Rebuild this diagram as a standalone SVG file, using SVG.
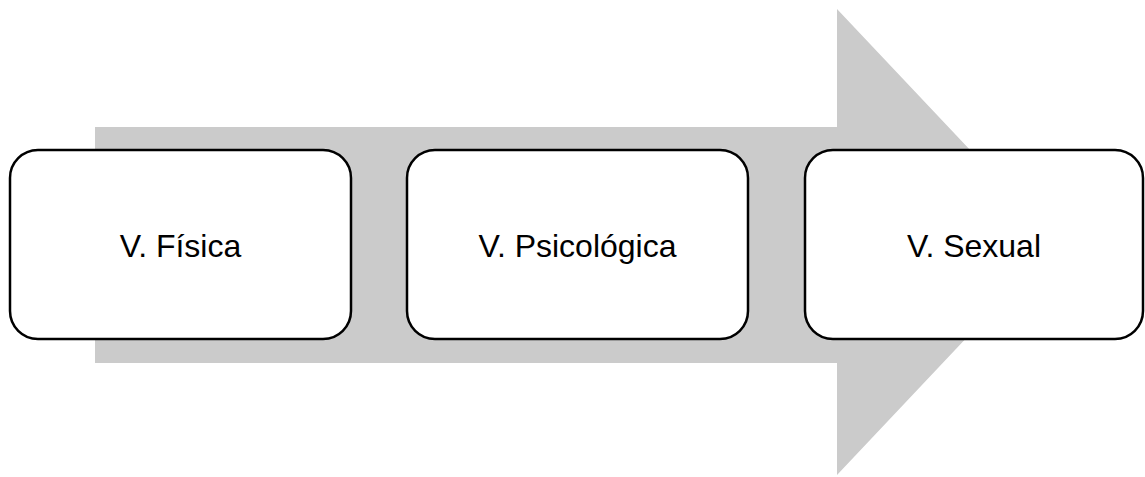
<svg xmlns="http://www.w3.org/2000/svg" width="1145" height="477" viewBox="0 0 1145 477">
<style>
.box{fill:#fff;stroke:#000;stroke-width:2.5}
.lbl{font-family:"Liberation Sans",Arial,sans-serif;font-size:32px;fill:#000;text-anchor:middle}
</style>
<rect width="1145" height="477" fill="#fff"/>
<g id="arrow">
<polygon points="95,127 837,127 837,9 1057,242 837,475 837,363 95,363" fill="#cbcbcb"/>
</g>
<g id="connectors"></g>
<g id="n1"><rect class="box" x="10" y="150" width="341" height="189" rx="28"/><text class="lbl" x="180.5" y="257">V. Física</text></g>
<g id="n2"><rect class="box" x="407" y="150" width="341" height="189" rx="28"/><text class="lbl" x="577.5" y="257">V. Psicológica</text></g>
<g id="n3"><rect class="box" x="805" y="150" width="338" height="189" rx="28"/><text class="lbl" x="974" y="257">V. Sexual</text></g>
</svg>
